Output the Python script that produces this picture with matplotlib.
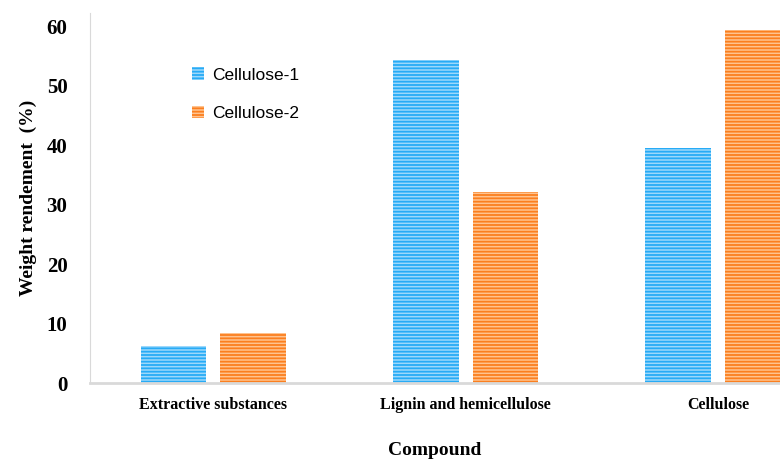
import numpy as np
import matplotlib.pyplot as plt

categories = ["Extractive substances", "Lignin and hemicellulose", "Cellulose"]
cellulose_1 = [6.2, 54.3, 39.5]
cellulose_2 = [8.4, 32.1, 59.3]

plt.rcParams['hatch.linewidth'] = 1.3

fig = plt.figure(figsize=(7.8, 4.61), dpi=100)
ax = fig.add_axes([0.115, 0.169, 0.885, 0.803])

x = np.arange(len(categories))
w = 0.26
off = 0.158
ax.bar(x - off, cellulose_1, w, color='#9dd8fb', edgecolor='#27abf6',
       hatch='-----', linewidth=0, label='Cellulose-1')
ax.bar(x + off, cellulose_2, w, color='#ffc38f', edgecolor='#fb7f1f',
       hatch='-----', linewidth=0, label='Cellulose-2')

ax.set_xlim(-0.49, 2.246)
ax.set_ylim(0, 62.2)
ax.set_yticks(np.arange(0, 61, 10))
ax.set_xticks(x)
ax.set_xticklabels(categories, family='Liberation Serif', fontweight='bold', fontsize=11.5)
for t in ax.get_yticklabels():
    t.set_family('Liberation Serif')
    t.set_fontweight('bold')
    t.set_fontsize(15)
ax.tick_params(length=0)
ax.tick_params(axis='y', pad=16)
ax.tick_params(axis='x', pad=10)

for s in ['top', 'right']:
    ax.spines[s].set_visible(False)
ax.spines['left'].set_color('#d9d9d9')
ax.spines['bottom'].set_color('#d9d9d9')
ax.spines['bottom'].set_linewidth(2)

ax.set_ylabel("Weight rendement  (%)", family='Liberation Serif', fontweight='bold',
              fontsize=14, labelpad=7)
ax.set_xlabel("Compound", family='Liberation Serif', fontweight='bold', fontsize=14,
              labelpad=21)

ax.legend(loc='upper left', bbox_to_anchor=(0.125, 0.895), frameon=False,
          prop={'family': 'Liberation Sans', 'size': 12.5},
          handlelength=0.7, handleheight=0.7, handletextpad=0.5, labelspacing=1.35)

fig.savefig("out.png", dpi=100)
